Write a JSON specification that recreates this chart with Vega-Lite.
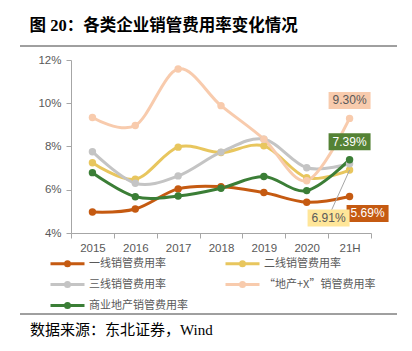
{
  "$schema": "https://vega.github.io/schema/vega-lite/v6.json",
  "width": 300,
  "height": 173,
  "autosize": {"type": "none"},
  "padding": {"left": 71, "top": 60, "right": 41, "bottom": 118},
  "background": "white",
  "title": {
    "text": "图 20：各类企业销管费用率变化情况",
    "anchor": "start",
    "dx": 10,
    "offset": 11,
    "font": "Liberation Serif, Noto Sans CJK SC",
    "fontSize": 16.5,
    "fontWeight": "bold",
    "color": "#000000"
  },
  "config": {
    "view": {"stroke": null},
    "font": "Liberation Sans",
    "axisY": {"labelOverlap": false, "tickCount": 8}
  },
  "datasets": {
    "rates": [
      {"year": "2015", "series": "一线销管费用率", "value": 0.0497},
      {"year": "2016", "series": "一线销管费用率", "value": 0.0511},
      {"year": "2017", "series": "一线销管费用率", "value": 0.0604},
      {"year": "2018", "series": "一线销管费用率", "value": 0.0614},
      {"year": "2019", "series": "一线销管费用率", "value": 0.0587},
      {"year": "2020", "series": "一线销管费用率", "value": 0.0542},
      {"year": "21H", "series": "一线销管费用率", "value": 0.0569},
      {"year": "2015", "series": "二线销管费用率", "value": 0.0725},
      {"year": "2016", "series": "二线销管费用率", "value": 0.0649},
      {"year": "2017", "series": "二线销管费用率", "value": 0.0797},
      {"year": "2018", "series": "二线销管费用率", "value": 0.0772},
      {"year": "2019", "series": "二线销管费用率", "value": 0.0803},
      {"year": "2020", "series": "二线销管费用率", "value": 0.0656},
      {"year": "21H", "series": "二线销管费用率", "value": 0.0691},
      {"year": "2015", "series": "三线销管费用率", "value": 0.0776},
      {"year": "2016", "series": "三线销管费用率", "value": 0.0630},
      {"year": "2017", "series": "三线销管费用率", "value": 0.0664},
      {"year": "2018", "series": "三线销管费用率", "value": 0.0774},
      {"year": "2019", "series": "三线销管费用率", "value": 0.0834},
      {"year": "2020", "series": "三线销管费用率", "value": 0.0702},
      {"year": "21H", "series": "三线销管费用率", "value": 0.0720},
      {"year": "2015", "series": "“地产+X”销管费用率", "value": 0.0934},
      {"year": "2016", "series": "“地产+X”销管费用率", "value": 0.0897},
      {"year": "2017", "series": "“地产+X”销管费用率", "value": 0.1158},
      {"year": "2018", "series": "“地产+X”销管费用率", "value": 0.0989},
      {"year": "2019", "series": "“地产+X”销管费用率", "value": 0.0834},
      {"year": "2020", "series": "“地产+X”销管费用率", "value": 0.0642},
      {"year": "21H", "series": "“地产+X”销管费用率", "value": 0.0930},
      {"year": "2015", "series": "商业地产销管费用率", "value": 0.0679},
      {"year": "2016", "series": "商业地产销管费用率", "value": 0.0568},
      {"year": "2017", "series": "商业地产销管费用率", "value": 0.0571},
      {"year": "2018", "series": "商业地产销管费用率", "value": 0.0607},
      {"year": "2019", "series": "商业地产销管费用率", "value": 0.0661},
      {"year": "2020", "series": "商业地产销管费用率", "value": 0.0596},
      {"year": "21H", "series": "商业地产销管费用率", "value": 0.0739}
    ]
  },
  "data": {"name": "rates"},
  "encoding": {
    "x": {
      "field": "year", "type": "ordinal", "bandPosition": 0.5,
      "sort": ["2015", "2016", "2017", "2018", "2019", "2020", "21H"],
      "scale": {"type": "band", "paddingInner": 0, "paddingOuter": 0},
      "axis": {"title": null, "labelAngle": 0, "tickBand": "extent", "domainColor": "#A6A6A6", "tickColor": "#A6A6A6", "tickSize": 5, "labelPadding": 4, "labelColor": "#595959", "labelFontSize": 11.5, "labelFont": "Liberation Sans", "grid": false}
    },
    "y": {
      "field": "value", "type": "quantitative",
      "scale": {"domain": [0.04, 0.12], "nice": false, "zero": false},
      "axis": {"title": null, "values": [0.04, 0.05, 0.06, 0.07, 0.08, 0.09, 0.1, 0.11, 0.12], "tickCount": 8, "format": ".0%", "labelOverlap": false, "domainColor": "#A6A6A6", "tickColor": "#A6A6A6", "tickSize": 5, "labelPadding": 5, "labelColor": "#595959", "labelFontSize": 11.5, "labelFont": "Liberation Sans", "grid": false}
    }
  },
  "layer": [
    {
      "data": {"values": [{}]},
      "mark": {"type": "rule", "color": "#404040", "strokeWidth": 1},
      "encoding": {"x": {"value": -51}, "x2": {"value": 326}, "y": {"value": -14}}
    },
    {
      "data": {"values": [{}]},
      "mark": {"type": "rule", "color": "#404040", "strokeWidth": 1},
      "encoding": {"x": {"value": -51}, "x2": {"value": 326}, "y": {"value": 254}}
    },
    {
      "data": {"values": [{"t": "数据来源：东北证券，Wind"}]},
      "mark": {"type": "text", "align": "left", "baseline": "alphabetic", "font": "Liberation Serif, Noto Sans CJK SC", "fontSize": 15, "color": "#000000"},
      "encoding": {"x": {"value": -41}, "y": {"value": 275}, "text": {"field": "t"}}
    },
    {
      "mark": {"type": "line", "interpolate": "cardinal", "strokeWidth": 3},
      "encoding": {
        "color": {
          "field": "series", "type": "nominal",
          "scale": {
            "domain": ["一线销管费用率", "二线销管费用率", "三线销管费用率", "“地产+X”销管费用率", "商业地产销管费用率"],
            "range": ["#C55A11", "#E8C65E", "#C4C4C4", "#F8CBAD", "#3B7E36"]
          },
          "legend": {
            "title": null, "orient": "none", "legendX": -10, "legendY": 197, "columns": 2, "direction": "horizontal",
            "symbolType": "M-3.4,0H3.4M-0.4,0a0.4,0.4 0 1,0 0.8,0a0.4,0.4 0 1,0 -0.8,0",
            "symbolSize": 100, "symbolStrokeWidth": 3, "labelOffset": 15,
            "labelFont": "Noto Sans CJK SC", "labelFontSize": 11, "labelColor": "#595959",
            "columnPadding": 31, "rowPadding": 4, "padding": 0,
            "encode": {"symbols": {"update": {"fill": {"scale": "color", "field": "value"}, "stroke": {"scale": "color", "field": "value"}, "opacity": {"value": 1}}}}
          }
        }
      }
    },
    {
      "mark": {"type": "point", "filled": true, "size": 55, "opacity": 1},
      "encoding": {
        "color": {"field": "series", "type": "nominal"}
      }
    },
    {
      "transform": [{"filter": "datum.series === '二线销管费用率' && datum.year === '21H'"}],
      "mark": {"type": "rule", "color": "#A6A6A6", "strokeWidth": 1, "x2Offset": -18, "y2Offset": 40},
      "encoding": {
        "x2": {"field": "year"},
        "y2": {"field": "value"}
      }
    },
    {
      "transform": [{"filter": "datum.series === '“地产+X”销管费用率' && datum.year === '21H'"}],
      "layer": [
        {
          "mark": {"type": "point", "shape": "M-2.47,-1H2.47V1H-2.47Z", "size": 289, "filled": true, "color": "#F8CBAD", "opacity": 1, "strokeWidth": 0, "yOffset": -18}
        },
        {
          "mark": {"type": "text", "dy": -18, "fontSize": 12, "color": "#595959", "font": "Liberation Sans"},
          "encoding": {"text": {"field": "value", "format": ".2%"}}
        }
      ]
    },
    {
      "transform": [{"filter": "datum.series === '商业地产销管费用率' && datum.year === '21H'"}],
      "layer": [
        {
          "mark": {"type": "point", "shape": "M-2.47,-1H2.47V1H-2.47Z", "size": 289, "filled": true, "color": "#548235", "opacity": 1, "strokeWidth": 0, "yOffset": -18}
        },
        {
          "mark": {"type": "text", "dy": -18, "fontSize": 12, "color": "#FFFFFF", "font": "Liberation Sans"},
          "encoding": {"text": {"field": "value", "format": ".2%"}}
        }
      ]
    },
    {
      "transform": [{"filter": "datum.series === '一线销管费用率' && datum.year === '21H'"}],
      "layer": [
        {
          "mark": {"type": "point", "shape": "M-2.47,-1H2.47V1H-2.47Z", "size": 289, "filled": true, "color": "#C55A11", "opacity": 1, "strokeWidth": 0, "xOffset": 18, "yOffset": 17}
        },
        {
          "mark": {"type": "text", "dx": 18, "dy": 17, "fontSize": 12, "color": "#FFFFFF", "font": "Liberation Sans"},
          "encoding": {"text": {"field": "value", "format": ".2%"}}
        }
      ]
    },
    {
      "transform": [{"filter": "datum.series === '二线销管费用率' && datum.year === '21H'"}],
      "layer": [
        {
          "mark": {"type": "point", "shape": "M-2.47,-1H2.47V1H-2.47Z", "size": 289, "filled": true, "color": "#FFE699", "opacity": 1, "strokeWidth": 0, "xOffset": -21, "yOffset": 48}
        },
        {
          "mark": {"type": "text", "dx": -21, "dy": 48, "fontSize": 12, "color": "#595959", "font": "Liberation Sans"},
          "encoding": {"text": {"field": "value", "format": ".2%"}}
        }
      ]
    }
  ]
}
